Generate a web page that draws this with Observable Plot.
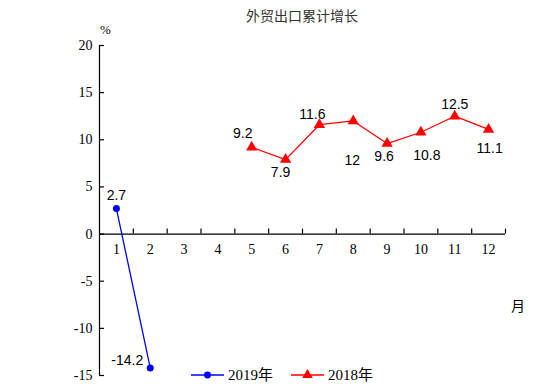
<!DOCTYPE html>
<html><head><meta charset="utf-8">
<script src="https://cdn.jsdelivr.net/npm/d3@7"></script>
<script src="https://cdn.jsdelivr.net/npm/@observablehq/plot@0.6"></script>
<style>
body{margin:0;background:#fff;}
#wrap{position:relative;width:554px;height:392px;font-family:"Liberation Serif","Times New Roman","Noto Sans CJK SC",serif;}
.abs{position:absolute;white-space:nowrap;line-height:1;}
</style></head>
<body><div id="wrap"></div>
<script>
const months = [1,2,3,4,5,6,7,8,9,10,11,12];
const yTicks = [-15,-10,-5,0,5,10,15,20];
const months2019 = [1,2];
const values2019 = [2.7,-14.2];
const months2018 = [5,6,7,8,9,10,11,12];
const values2018 = [9.2,7.9,11.6,12,9.6,10.8,12.5,11.1];
const titleText = "外贸出口累计增长";
const unitText = "%";
const xUnitText = "月";
const series = [
  {name:"2019年", color:"#0000ff", symbol:"circle", months:months2019, values:values2019},
  {name:"2018年", color:"#ff0000", symbol:"triangle", months:months2018, values:values2018}
];
// label placement (pixel offsets), kept separate from the data
const place2019 = [[0,-13,"middle"],[-7,-7,"end"]];
const place2018 = [[-9,-14,"middle"],[-5,13,"middle"],[-7,-10,"middle"],[-1,40,"middle"],[-3,13,"middle"],[6,23,"middle"],[0,-12,"middle"],[1,19,"middle"]];

const rows = [];
series.forEach((s,si)=>s.months.forEach((m,i)=>rows.push({series:s.name,month:m,value:s.values[i],p:(si===0?place2019:place2018)[i]})));
const boundaries = months.map(m=>m+0.5);
const SERIF = '"Liberation Serif","Times New Roman",serif';
const SANS = '"Liberation Sans",Arial,sans-serif';

const chart = Plot.plot({
  width:554, height:392,
  marginLeft:99, marginRight:49, marginTop:45, marginBottom:17,
  x:{domain:[0.5,12.5], axis:null},
  y:{domain:[-15,20], axis:null},
  style:{background:"#fff"},
  marks:[
    Plot.ruleX([0.5],{y1:-15,y2:20,stroke:"#000",strokeWidth:1.2}),
    Plot.ruleY(yTicks,{x1:0.5,x2:0.5+5/33.83,stroke:"#000",strokeWidth:1.2}),
    Plot.text(yTicks,{x:0.5,y:d=>d,text:d=>String(d),textAnchor:"end",dx:-7,fill:"#000",fontSize:14,fontFamily:SERIF}),
    Plot.ruleY([0],{x1:0.5,x2:12.5,stroke:"#000",strokeWidth:1.2}),
    Plot.ruleX(boundaries,{y1:0,y2:5/9.43,stroke:"#000",strokeWidth:1.2}),
    Plot.text(months,{x:d=>d,y:0,text:d=>String(d),dy:15,fill:"#000",fontSize:14,fontFamily:SERIF}),
    ...series.map(s=>Plot.line(rows.filter(r=>r.series===s.name),{x:"month",y:"value",stroke:s.color,strokeWidth:1.3})),
    ...series.map(s=>Plot.dot(rows.filter(r=>r.series===s.name),{x:"month",y:"value",fill:s.color,symbol:s.symbol,r:s.symbol==="circle"?3.5:4.2,stroke:"none"})),
    ...rows.map(r=>Plot.text([r],{x:"month",y:"value",text:d=>String(d.value),dx:r.p[0],dy:r.p[1],textAnchor:r.p[2],
      fontFamily:SANS,fontSize:14,fill:"#000"}))
  ]
});
const wrap = document.getElementById("wrap");
wrap.appendChild(chart);
chart.style.position="absolute"; chart.style.left="0"; chart.style.top="0";

function addText(txt, left, top, size, color){
  const d=document.createElement("div"); d.className="abs"; d.textContent=txt;
  d.style.left=left+"px"; d.style.top=top+"px"; d.style.fontSize=size+"px"; d.style.color=color;
  wrap.appendChild(d); return d;
}
const t = addText(titleText, 0, 10, 14, "#333");
t.style.left = (302 - t.getBoundingClientRect().width/2) + "px";
addText(unitText, 100, 23, 13, "#000");
addText(xUnitText, 511, 300, 14, "#000");

// legend
const leg = document.createElement("div");
leg.className="abs"; leg.style.left="191px"; leg.style.top="367px"; leg.style.display="flex"; leg.style.alignItems="center";
series.forEach((s,i)=>{
  const item=document.createElement("div"); item.style.display="flex"; item.style.alignItems="center"; item.style.marginRight=i===0?"18px":"0";
  const ns="http://www.w3.org/2000/svg";
  const sv=document.createElementNS(ns,"svg"); sv.setAttribute("width","34"); sv.setAttribute("height","16");
  const ln=document.createElementNS(ns,"line"); ln.setAttribute("x1","0");ln.setAttribute("x2","33");ln.setAttribute("y1","8");ln.setAttribute("y2","8");
  ln.setAttribute("stroke",s.color); ln.setAttribute("stroke-width","1.3"); sv.appendChild(ln);
  const sym=document.createElementNS(ns,"path");
  sym.setAttribute("d", d3.symbol(s.symbol==="circle"?d3.symbolCircle:d3.symbolTriangle, s.symbol==="circle"?38:48)());
  sym.setAttribute("transform","translate(16.5,8)"); sym.setAttribute("fill",s.color); sv.appendChild(sym);
  const tx=document.createElement("span"); tx.textContent=s.name; tx.style.fontSize="15px"; tx.style.marginLeft="3px";
  item.appendChild(sv); item.appendChild(tx); leg.appendChild(item);
});
wrap.appendChild(leg);
</script>
</body></html>
